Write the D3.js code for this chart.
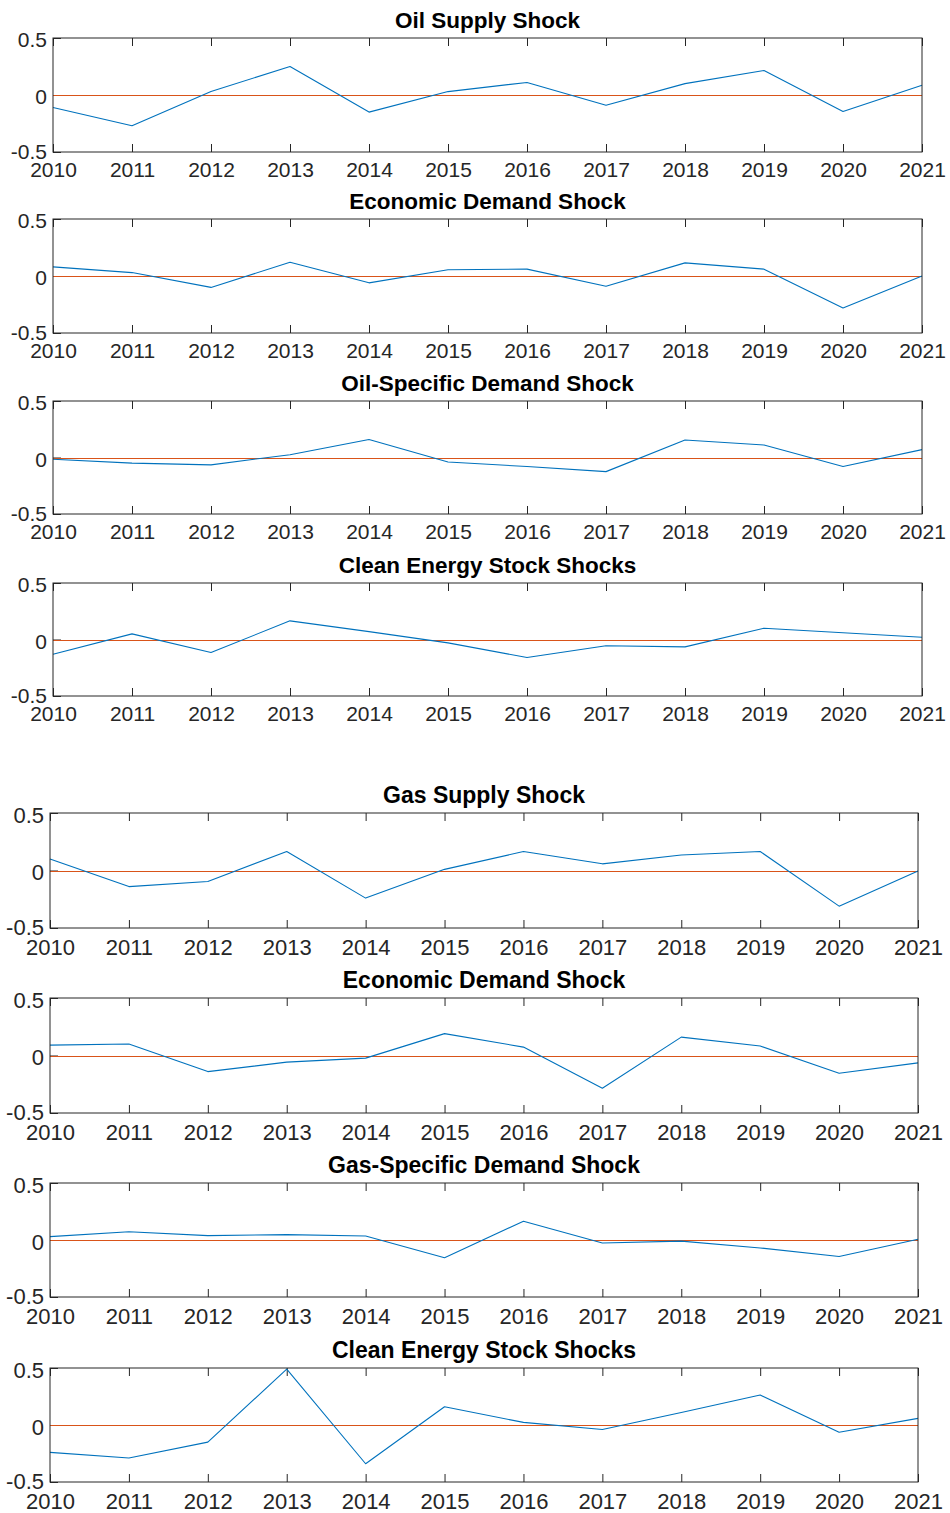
<!DOCTYPE html>
<html>
<head>
<meta charset="utf-8">
<script src="https://cdn.jsdelivr.net/npm/d3@7"></script>
<style>
  html, body { margin: 0; padding: 0; background: #fff; }
  svg { display: block; }
  text { font-family: "Liberation Sans", Arial, sans-serif; }
</style>
</head>
<body>
<svg id="chart" width="950" height="1513"></svg>
<script>
// Year axis shared by every panel
const years = [2010, 2011, 2012, 2013, 2014, 2015, 2016, 2017, 2018, 2019, 2020, 2021];
const yTicks = [-0.5, 0, 0.5];
const yTickLabels = ["-0.5", "0", "0.5"];

// Oil market block
const oilSupplyShock      = [-0.11, -0.27, 0.03, 0.25, -0.15, 0.03, 0.11, -0.09, 0.10, 0.215, -0.145, 0.085];
const oilEconDemandShock  = [0.08, 0.03, -0.10, 0.12, -0.06, 0.055, 0.06, -0.09, 0.115, 0.06, -0.28, 0.0];
const oilSpecificShock    = [-0.015, -0.05, -0.065, 0.025, 0.16, -0.04, -0.08, -0.125, 0.155, 0.11, -0.08, 0.07];
const oilCleanEnergyShock = [-0.13, 0.05, -0.115, 0.165, 0.07, -0.03, -0.16, -0.055, -0.065, 0.10, 0.06, 0.02];

// Gas market block
const gasSupplyShock      = [0.10, -0.14, -0.095, 0.165, -0.24, 0.01, 0.165, 0.058, 0.135, 0.165, -0.31, -0.005];
const gasEconDemandShock  = [0.09, 0.10, -0.14, -0.058, -0.023, 0.19, 0.073, -0.285, 0.16, 0.082, -0.155, -0.064];
const gasSpecificShock    = [0.03, 0.073, 0.038, 0.047, 0.035, -0.155, 0.165, -0.026, -0.01, -0.07, -0.145, 0.006];
const gasCleanEnergyShock = [-0.24, -0.29, -0.15, 0.49, -0.34, 0.16, 0.023, -0.04, 0.11, 0.263, -0.064, 0.058];

const titles = [
  "Oil Supply Shock", "Economic Demand Shock", "Oil-Specific Demand Shock", "Clean Energy Stock Shocks",
  "Gas Supply Shock", "Economic Demand Shock", "Gas-Specific Demand Shock", "Clean Energy Stock Shocks"
];
const seriesList = [
  oilSupplyShock, oilEconDemandShock, oilSpecificShock, oilCleanEnergyShock,
  gasSupplyShock, gasEconDemandShock, gasSpecificShock, gasCleanEnergyShock
];

// Panel frames: two stacked groups of four axes
const frames = [
  { x0: 53, x1: 922, top: 38,   h: 114, tick: 21, title: 22.5, lblGap: 25 },
  { x0: 53, x1: 922, top: 219,  h: 114, tick: 21, title: 22.5, lblGap: 25 },
  { x0: 53, x1: 922, top: 401,  h: 113, tick: 21, title: 22.5, lblGap: 25 },
  { x0: 53, x1: 922, top: 583,  h: 113, tick: 21, title: 22.5, lblGap: 25 },
  { x0: 50, x1: 918, top: 813,  h: 115, tick: 22, title: 23,   lblGap: 27 },
  { x0: 50, x1: 918, top: 998,  h: 115, tick: 22, title: 23,   lblGap: 27 },
  { x0: 50, x1: 918, top: 1183, h: 114, tick: 22, title: 23,   lblGap: 27 },
  { x0: 50, x1: 918, top: 1368, h: 114, tick: 22, title: 23,   lblGap: 27 }
];

const svg = d3.select("#chart");
const blue = "#0072BD", orange = "#D95319", axisCol = "#262626";

seriesList.forEach((vals, i) => {
  const f = frames[i];
  const x = d3.scaleLinear().domain([years[0], years[years.length - 1]]).range([f.x0, f.x1]);
  const y = d3.scaleLinear().domain([-0.5, 0.5]).range([f.top + f.h, f.top]);
  const g = svg.append("g");

  // bottom axis: inward ticks, year labels
  const xb = d3.axisBottom(x).tickValues(years).tickFormat(d3.format("d")).tickSizeInner(-8).tickSizeOuter(0).tickPadding(0);
  const gx = g.append("g").attr("transform", `translate(0,${f.top + f.h})`).call(xb);
  gx.select(".domain").remove();
  gx.selectAll(".tick line").attr("stroke", axisCol);
  gx.selectAll(".tick text")
    .attr("y", f.lblGap).attr("dy", null)
    .attr("fill", axisCol)
    .style("font-size", f.tick + "px");

  // top axis: inward ticks only
  const xt = d3.axisTop(x).tickValues(years).tickFormat("").tickSizeInner(-8).tickSizeOuter(0);
  const gxt = g.append("g").attr("transform", `translate(0,${f.top})`).call(xt);
  gxt.select(".domain").remove();
  gxt.selectAll(".tick line").attr("stroke", axisCol);

  // left axis labels (plain hyphen for the negative value)
  const yl = d3.axisLeft(y).tickValues(yTicks)
    .tickFormat((d, k) => yTickLabels[k])
    .tickSizeInner(-8).tickSizeOuter(0).tickPadding(6);
  const gy = g.append("g").attr("transform", `translate(${f.x0},0)`).call(yl);
  gy.select(".domain").remove();
  gy.selectAll(".tick line").attr("stroke", axisCol);
  gy.selectAll(".tick text")
    .attr("fill", axisCol)
    .attr("dy", d => d < 0 ? "0.3em" : "0.42em")
    .style("font-size", f.tick + "px");

  // zero reference line, snapped to a pixel row so it stays orange
  const y0 = Math.round(y(0)) + 0.5;
  g.append("line")
    .attr("x1", x(years[0])).attr("x2", x(years[years.length - 1]))
    .attr("y1", y0).attr("y2", y0)
    .attr("stroke", orange).attr("stroke-width", 1.2);

  // shock series
  const line = d3.line().x((d, j) => x(years[j])).y(d => y(d));
  g.append("path").datum(vals)
    .attr("d", line)
    .attr("fill", "none")
    .attr("stroke", blue)
    .attr("stroke-width", 1.1)
    .attr("stroke-linejoin", "round");

  // axes box
  g.append("rect")
    .attr("x", f.x0).attr("y", f.top)
    .attr("width", f.x1 - f.x0).attr("height", f.h)
    .attr("fill", "none").attr("stroke", axisCol).attr("stroke-width", 1);

  // panel title
  g.append("text")
    .attr("x", (f.x0 + f.x1) / 2)
    .attr("y", f.top - 10)
    .attr("text-anchor", "middle")
    .attr("fill", "#000")
    .style("font-size", f.title + "px")
    .style("font-weight", "bold")
    .text(titles[i]);
});
</script>
</body>
</html>
